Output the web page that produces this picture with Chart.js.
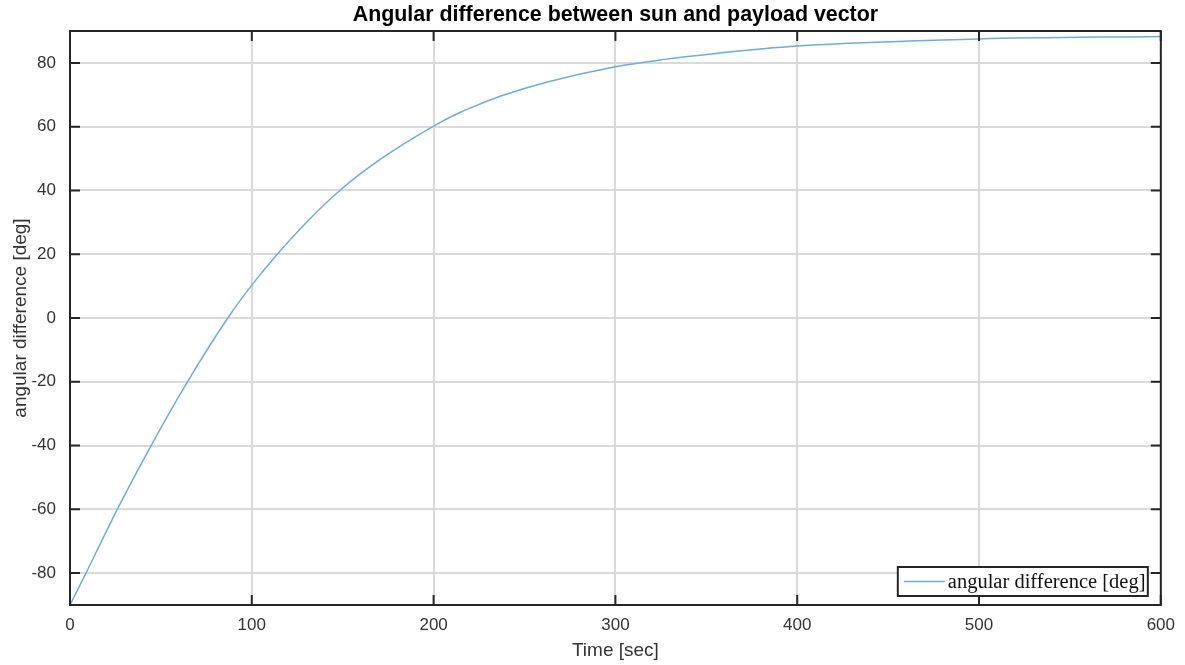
<!DOCTYPE html>
<html>
<head>
<meta charset="utf-8">
<script src="https://cdn.jsdelivr.net/npm/chart.js@4/dist/chart.umd.min.js"></script>
<style>
  html, body { margin: 0; padding: 0; background: #fff; }
  #wrap { width: 1185px; height: 665px; }
</style>
</head>
<body>
<div id="wrap"><canvas id="myChart"></canvas></div>
<script>
// values
const times = [0, 8.8, 26, 44.6, 64.6, 86.8, 100, 114, 130.4, 148.4, 170.8, 200, 215, 226, 237, 262.6, 300, 327, 354, 400, 500, 600];
const angles = [-90, -80, -60, -40, -20, 0, 10.3, 20, 30.2, 40, 49.8, 60.2, 64.6, 67.2, 69.6, 74, 78.8, 81.1, 82.9, 85.3, 87.5, 88.3];
const xTicks = [0, 100, 200, 300, 400, 500, 600];
const yTicks = [-80, -60, -40, -20, 0, 20, 40, 60, 80];
const seriesLabel = "angular difference [deg]";
const chartTitle = "Angular difference between sun and payload vector";

const axisColor = "#262626";
const gridColor = "#dadada";
const lineColor = "#6aaedc";

const ctx = document.getElementById("myChart");

// matlab style box + inward ticks, title centred over the axes
const boxPlugin = {
  id: "box",
  afterDatasetsDraw(chart) {
    const c = chart.ctx;
    const a = chart.chartArea;
    const xs = chart.scales.x;
    const ys = chart.scales.y;
    const len = 10;
    c.save();
    c.strokeStyle = axisColor;
    c.lineWidth = 2;
    c.beginPath();
    xTicks.forEach((v) => {
      const px = xs.getPixelForValue(v);
      c.moveTo(px, a.bottom);
      c.lineTo(px, a.bottom - len);
      c.moveTo(px, a.top);
      c.lineTo(px, a.top + len);
    });
    yTicks.forEach((v) => {
      const py = ys.getPixelForValue(v);
      c.moveTo(a.left, py);
      c.lineTo(a.left + len, py);
      c.moveTo(a.right, py);
      c.lineTo(a.right - len, py);
    });
    c.stroke();
    c.strokeRect(a.left, a.top, a.right - a.left, a.bottom - a.top);

    c.fillStyle = "#000";
    c.font = "bold 21.4px 'Liberation Sans'";
    c.textAlign = "center";
    c.textBaseline = "middle";
    c.fillText(chartTitle, (a.left + a.right) / 2, 15);
    c.restore();
  },
};

// legend box in the lower right corner
const legendPlugin = {
  id: "cornerLegend",
  afterDraw(chart) {
    const c = chart.ctx;
    const a = chart.chartArea;
    const w = 250;
    const h = 29;
    const x = a.right - 13 - w;
    const y = a.bottom - 9 - h;
    c.save();
    c.fillStyle = "#fff";
    c.fillRect(x, y, w, h);
    c.strokeStyle = axisColor;
    c.lineWidth = 2;
    c.strokeRect(x, y, w, h);
    c.strokeStyle = lineColor;
    c.lineWidth = 1.5;
    c.beginPath();
    c.moveTo(x + 6, y + h / 2);
    c.lineTo(x + 47, y + h / 2);
    c.stroke();
    c.fillStyle = "#111";
    c.font = "20.5px 'Liberation Serif'";
    c.textBaseline = "middle";
    c.fillText(chart.data.datasets[0].label, x + 50, y + h / 2 + 1);
    c.restore();
  },
};

const myChart = new Chart(ctx, {
  type: "line",
  data: {
    datasets: [
      {
        label: seriesLabel,
        data: times.map((t, i) => ({ x: t, y: angles[i] })),
        borderColor: lineColor,
        borderWidth: 1.5,
        pointRadius: 0,
        cubicInterpolationMode: "monotone",
        fill: false,
      },
    ],
  },
  options: {
    responsive: true,
    maintainAspectRatio: false,
    animation: false,
    layout: { padding: { left: 0, right: 24, top: 31, bottom: 0 } },
    plugins: {
      legend: { display: false },
      tooltip: { enabled: false },
      title: { display: false },
    },
    scales: {
      x: {
        type: "linear",
        min: 0,
        max: 600,
        afterBuildTicks: (scale) => {
          scale.ticks = xTicks.map((v) => ({ value: v }));
        },
        afterFit: (scale) => {
          scale.height = 60;
        },
        grid: { color: gridColor, lineWidth: 2, drawTicks: false },
        border: { display: false },
        ticks: {
          color: "#333",
          padding: 10,
          font: { family: "'Liberation Sans', Arial", size: 17 },
        },
        title: {
          display: true,
          text: "Time [sec]",
          color: "#333",
          font: { family: "'Liberation Sans', Arial", size: 19 },
          padding: { top: 0, bottom: 2.6 },
        },
      },
      y: {
        type: "linear",
        min: -90,
        max: 90,
        afterBuildTicks: (scale) => {
          scale.ticks = yTicks.map((v) => ({ value: v }));
        },
        afterFit: (scale) => {
          scale.width = 70;
        },
        grid: { color: gridColor, lineWidth: 2, drawTicks: false },
        border: { display: false },
        ticks: {
          color: "#333",
          padding: 14,
          font: { family: "'Liberation Sans', Arial", size: 17 },
        },
        title: {
          display: true,
          text: "angular difference [deg]",
          color: "#333",
          font: { family: "'Liberation Sans', Arial", size: 19 },
          padding: { top: 9, bottom: 0 },
        },
      },
    },
  },
  plugins: [boxPlugin, legendPlugin],
});
</script>
</body>
</html>
